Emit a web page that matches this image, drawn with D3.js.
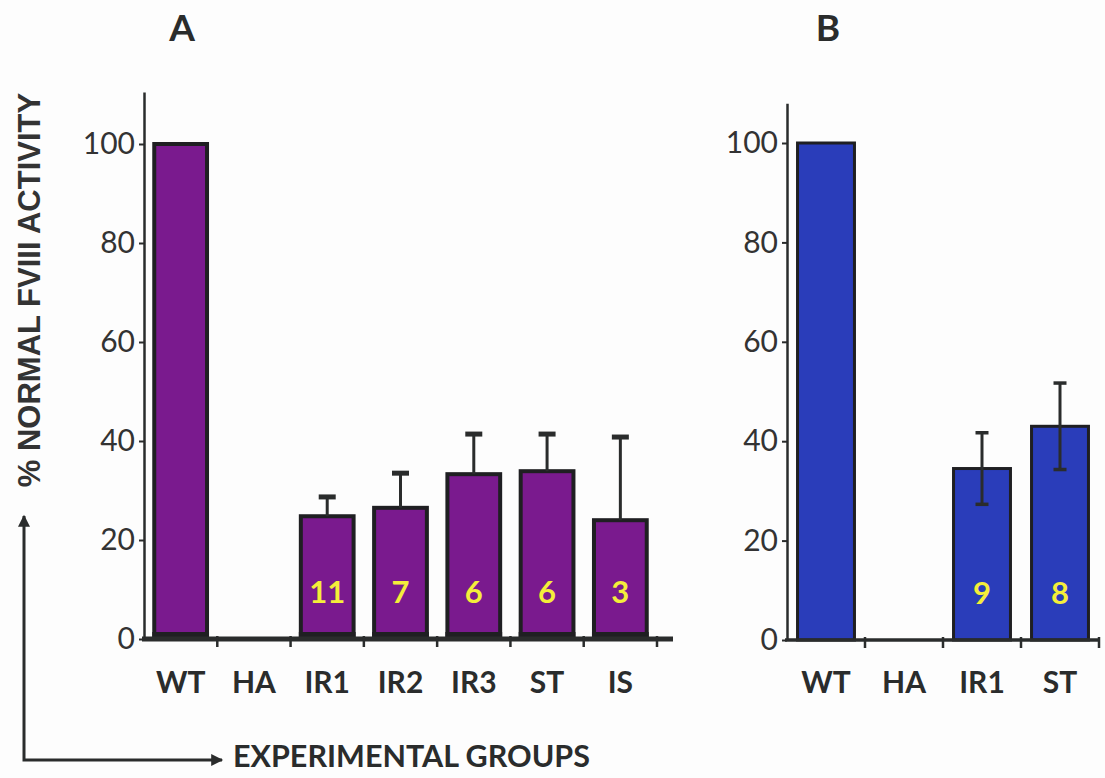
<!DOCTYPE html>
<html>
<head>
<meta charset="utf-8">
<script src="https://cdn.jsdelivr.net/npm/d3@7"></script>
<style>
  body { margin: 0; background: #fdfdfd; }
  svg { display: block; }
</style>
</head>
<body>
<svg id="chart" width="1105" height="778"></svg>
<script>
// Panel A: FVIII activity by experimental group (purple)
const groupsA = ["WT", "HA", "IR1", "IR2", "IR3", "ST", "IS"];
const valuesA = [100, 0, 24.8, 26.5, 33.3, 33.9, 24.0];
const errUpA  = [0, 0, 3.9, 7.0, 8.1, 7.5, 16.8];
const countsA = [null, null, 11, 7, 6, 6, 3];

// Panel B: FVIII activity (blue)
const groupsB = ["WT", "HA", "IR1", "ST"];
const valuesB = [100, 0, 34.5, 43.0];
const errB    = [0, 0, 7.2, 8.7];
const countsB = [null, null, 9, 8];

const yTicks = [0, 20, 40, 60, 80, 100];

const ink = "#2a2c2c";
const svg = d3.select("#chart");

function panel(opt) {
  const g = svg.append("g");
  const x = d3.scaleBand()
    .domain(opt.groups)
    .range([opt.x0, opt.x1])
    .paddingInner(opt.pad)
    .paddingOuter(opt.pad / 2);
  const y = d3.scaleLinear()
    .domain([0, opt.yMax])
    .range([opt.y0, opt.y0 - opt.yMax * opt.k]);
  const half = x.step() * opt.pad / 2;

  // y axis
  const ya = g.append("g")
    .attr("transform", `translate(${opt.x0},0)`)
    .call(d3.axisLeft(y).tickValues(yTicks).tickSize(5).tickSizeOuter(0).tickPadding(opt.tickPad));
  ya.select(".domain").attr("stroke", ink).attr("stroke-width", 2.5);
  ya.selectAll(".tick line").attr("stroke", ink).attr("stroke-width", 2);
  ya.selectAll(".tick text")
    .attr("fill", "#333")
    .style("font-family", "Lato, 'Open Sans', sans-serif")
    .style("font-size", "30px")
    .style("font-weight", 400);

  const rows = opt.groups.map((gname, i) => ({
    g: gname, v: opt.values[i], e: opt.err[i], n: opt.counts[i]
  }));
  const barRows = rows.filter(d => d.v > 0);

  // bars
  g.selectAll("rect.bar").data(barRows).join("rect")
    .attr("class", "bar")
    .attr("x", d => x(d.g))
    .attr("y", d => y(d.v))
    .attr("width", x.bandwidth())
    .attr("height", d => y(0) - y(d.v))
    .attr("fill", opt.fill)
    .attr("stroke", "#1f1f22")
    .attr("stroke-width", opt.barStroke);

  if (opt.baseBand) {
    g.selectAll("rect.base").data(barRows).join("rect")
      .attr("class", "base")
      .attr("x", d => x(d.g) - opt.barStroke / 2)
      .attr("y", y(0) - opt.baseBand)
      .attr("width", x.bandwidth() + opt.barStroke)
      .attr("height", opt.baseBand)
      .attr("fill", "#1f1f22");
  }

  // error bars
  const errRows = rows.filter(d => d.e > 0);
  const cx = d => x(d.g) + x.bandwidth() / 2;
  g.selectAll("line.err").data(errRows).join("line")
    .attr("class", "err")
    .attr("x1", cx).attr("x2", cx)
    .attr("y1", d => opt.symmetric ? y(d.v - d.e) : y(d.v))
    .attr("y2", d => y(d.v + d.e))
    .attr("stroke", ink).attr("stroke-width", 3);
  const caps = opt.symmetric ? errRows.flatMap(d => [d.v + d.e, d.v - d.e].map(t => ({ d, t })))
                             : errRows.map(d => ({ d, t: d.v + d.e }));
  g.selectAll("line.cap").data(caps).join("line")
    .attr("class", "cap")
    .attr("x1", c => cx(c.d) - opt.capW / 2)
    .attr("x2", c => cx(c.d) + opt.capW / 2)
    .attr("y1", c => y(c.t)).attr("y2", c => y(c.t))
    .attr("stroke", ink).attr("stroke-width", opt.capH);

  // x axis baseline and tick marks at band boundaries
  g.append("line")
    .attr("x1", opt.x0 - 2).attr("x2", opt.xEnd)
    .attr("y1", y(0)).attr("y2", y(0))
    .attr("stroke", ink).attr("stroke-width", opt.axisW);
  const bounds = opt.groups.map(d => x(d) - half).slice(1).concat([opt.x1]);
  g.selectAll("line.xt").data(bounds).join("line")
    .attr("class", "xt")
    .attr("x1", d => d).attr("x2", d => d)
    .attr("y1", y(0) - 3).attr("y2", y(0) + 8)
    .attr("stroke", ink).attr("stroke-width", 2.5);

  // category labels
  g.selectAll("text.cat").data(opt.groups).join("text")
    .attr("class", "cat")
    .attr("x", d => x(d) + x.bandwidth() / 2)
    .attr("y", opt.labelY)
    .attr("text-anchor", "middle")
    .attr("fill", ink)
    .style("font-family", "Lato, 'Open Sans', sans-serif")
    .style("font-size", "30px")
    .style("font-weight", 700)
    .text(d => d);

  // group sizes inside bars
  g.selectAll("text.n").data(rows.filter(d => d.n != null)).join("text")
    .attr("class", "n")
    .attr("x", d => cx(d))
    .attr("y", y(0) - 47)
    .attr("dy", "0.36em")
    .attr("text-anchor", "middle")
    .attr("fill", "#f4ee3a")
    .style("font-family", "Lato, 'Open Sans', sans-serif")
    .style("font-size", "31px")
    .style("font-weight", 700)
    .text(d => d.n);

  // panel letter
  g.append("text")
    .attr("x", opt.titleX).attr("y", 41)
    .attr("text-anchor", "middle")
    .attr("fill", ink)
    .style("font-family", "Lato, 'Open Sans', sans-serif")
    .style("font-size", "37px")
    .style("font-weight", 700)
    .text(opt.title);
}

panel({
  groups: groupsA, values: valuesA, err: errUpA, counts: countsA,
  x0: 144, x1: 657, xEnd: 673, pad: 0.28,
  y0: 639, k: 4.95, yMax: 110.5, tickPad: 4,
  fill: "#7a1a8e", barStroke: 4, baseBand: 7,
  capW: 17, capH: 5, axisW: 5, symmetric: false,
  labelY: 693, title: "A", titleX: 182
});

panel({
  groups: groupsB, values: valuesB, err: errB, counts: countsB,
  x0: 787, x1: 1099, xEnd: 1100, pad: 0.27,
  y0: 640, k: 4.97, yMax: 108, tickPad: 4,
  fill: "#2a3dba", barStroke: 3, baseBand: 0,
  capW: 13, capH: 3.5, axisW: 3.5, symmetric: true,
  labelY: 693, title: "B", titleX: 828
});

// shared y-axis title
svg.append("text")
  .attr("transform", "translate(40,290) rotate(-90)")
  .attr("text-anchor", "middle")
  .attr("fill", "#333")
  .style("font-family", "'Liberation Sans', Arial, sans-serif")
  .style("font-size", "31px")
  .style("font-weight", 700)
  .text("% NORMAL FVIII ACTIVITY");

// corner arrows pointing up and to the right
const defs = svg.append("defs");
defs.append("marker")
  .attr("id", "arrowhead")
  .attr("viewBox", "0 0 10 10")
  .attr("refX", 9).attr("refY", 5)
  .attr("markerWidth", 5).attr("markerHeight", 4)
  .attr("markerUnits", "strokeWidth")
  .attr("orient", "auto-start-reverse")
  .append("path")
  .attr("d", "M0,0 L10,5 L0,10 Z")
  .attr("fill", ink);

svg.append("path")
  .attr("d", d3.line()([[24, 516], [24, 760], [222, 760]]))
  .attr("fill", "none")
  .attr("stroke", ink)
  .attr("stroke-width", 3)
  .attr("marker-start", "url(#arrowhead)")
  .attr("marker-end", "url(#arrowhead)");

svg.append("text")
  .attr("x", 233).attr("y", 767)
  .attr("fill", ink)
  .style("font-family", "Lato, 'Open Sans', sans-serif")
  .style("font-size", "30.5px")
  .style("font-weight", 700)
  .text("EXPERIMENTAL GROUPS");
</script>
</body>
</html>
